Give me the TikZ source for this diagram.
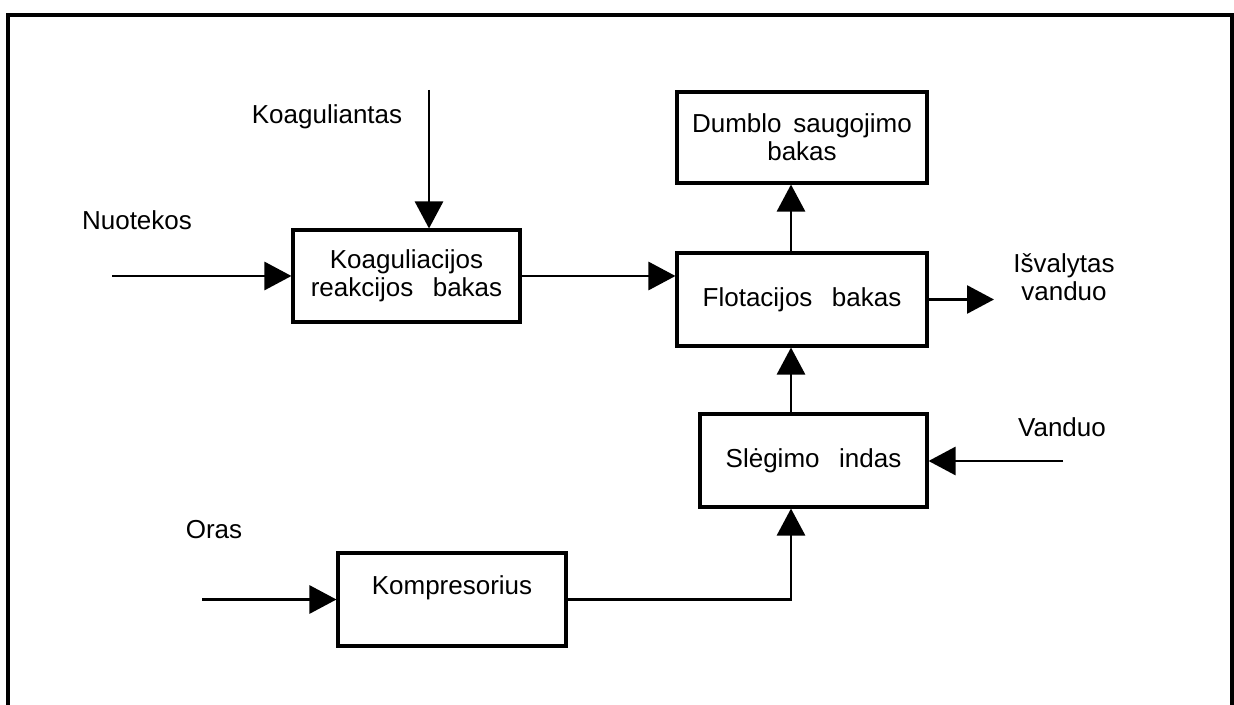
\documentclass[tikz,border=0pt]{standalone}
\usepackage{fontspec}
\setmainfont{Liberation Sans}
\usetikzlibrary{arrows.meta}
\begin{document}
\begin{tikzpicture}[x=0.75pt,y=-0.75pt,
  txt/.style={font=\fontsize{19.5pt}{21.3pt}\selectfont, align=center, inner sep=0pt},
  unit/.style={txt, draw, line width=2.3pt, fill=white},
  flow/.style={line width=2.1pt, -{Triangle[length=20.25pt,width=21pt]}},
  frameline/.style={line width=3pt}]
\useasboundingbox (0,0) rectangle (1234,705);

% outer frame, open at the bottom
\draw[frameline] (8,705) -- (8,14.7) -- (1232,14.7) -- (1232,705);

% process units
\node[unit, minimum width=170.25pt, minimum height=69pt] (koag) at (406.5,276)
  {Koaguliacijos\\reakcijos\hspace{0.75em}bakas};
\node[unit, minimum width=187.5pt, minimum height=69.75pt] (flot) at (802,299.5)
  {Flotacijos\hspace{0.75em}bakas};
\node[unit, minimum width=187.5pt, minimum height=68.25pt] (dumb) at (802,137.5)
  {Dumblo\hspace{0.45em}saugojimo\\bakas};
\node[unit, minimum width=170.25pt, minimum height=69.75pt] (sleg) at (813.5,460.5)
  {Slėgimo\hspace{0.75em}indas};
\node[unit, minimum width=171pt, minimum height=69.75pt,
  label={[txt, anchor=center, yshift=8.6pt]center:Kompresorius}] (komp) at (452,599.5) {};

% free ends of the flows
\coordinate (nuoin) at (112,276);
\coordinate (koagin) at (429,90);
\coordinate (out) at (994,299.5);
\coordinate (vin) at (1063,461);
\coordinate (orasin) at (202,599.5);
\coordinate (ax) at (791,0);

% labels
\node[txt] (lkoag) at (327,117) {Koaguliantas};
\node[txt] (lnuo) at (137,220) {Nuotekos};
\node[txt] (lisv) at (1064,277) {Išvalytas\\vanduo};
\node[txt] (lvan) at (1062,427) {Vanduo};
\node[txt] (loras) at (214,530) {Oras};

% flows
\draw[flow] (nuoin) -- (koag.west);
\draw[flow] (koagin) -- (koagin |- koag.north);
\draw[flow] (koag.east) -- (koag.east -| flot.west);
\draw[flow] (ax |- flot.north) -- (ax |- dumb.south);
\draw[flow] (flot.east) -- (out);
\draw[flow] (ax |- sleg.north) -- (ax |- flot.south);
\draw[flow] (vin) -- (vin -| sleg.east);
\draw[flow] (orasin) -- (komp.west);
\draw[flow] (komp.east) -- (ax |- komp.east) -- (ax |- sleg.south);
\end{tikzpicture}
\end{document}
